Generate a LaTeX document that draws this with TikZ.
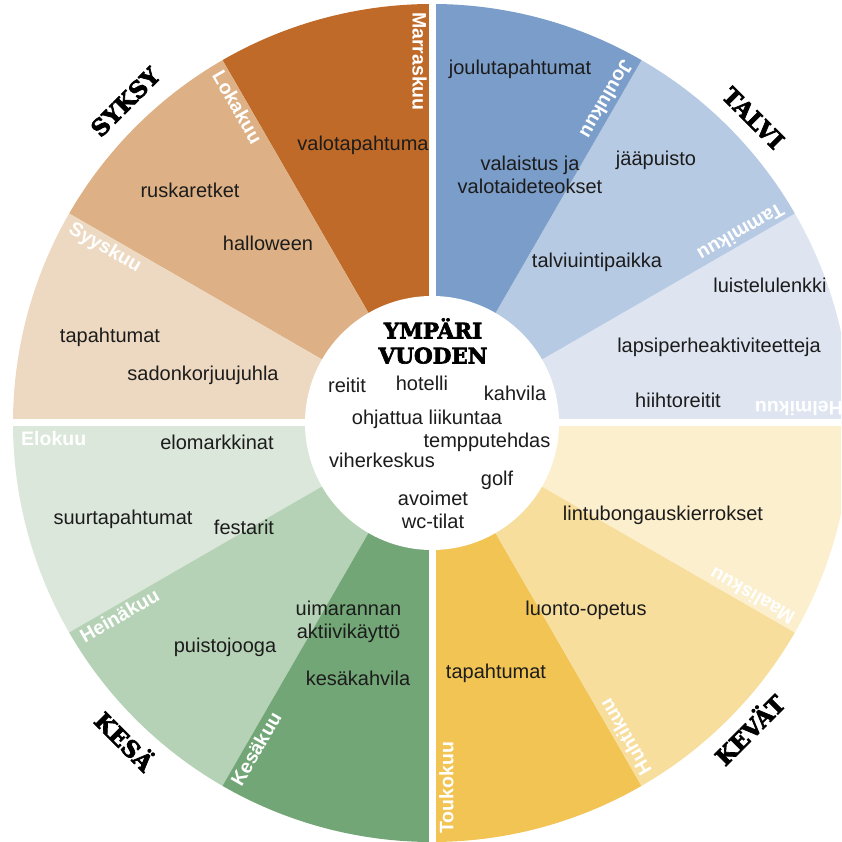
\documentclass[tikz,border=0pt]{standalone}
\usepackage{fontspec}
\setmainfont{Liberation Sans}
\newfontfamily\slab[BoldFeatures={FakeBold=3}]{DejaVu Serif}
\usetikzlibrary{calc}
\definecolor{marras}{HTML}{BF6A28}
\definecolor{loka}{HTML}{DDB185}
\definecolor{syys}{HTML}{EDD9C1}
\definecolor{joulu}{HTML}{7B9DC9}
\definecolor{tammi}{HTML}{B7CAE3}
\definecolor{helmi}{HTML}{DEE5F1}
\definecolor{elo}{HTML}{DBE7DA}
\definecolor{heina}{HTML}{B6D2B6}
\definecolor{kesa}{HTML}{72A676}
\definecolor{touko}{HTML}{F1C453}
\definecolor{huhti}{HTML}{F8DE9D}
\definecolor{maalis}{HTML}{FCEFCD}
\definecolor{txt}{HTML}{1C1C1C}
\tikzset{
  monthlbl/.style={text=white, font=\bfseries\fontsize{19.5}{20}\selectfont, inner sep=0pt},
  body/.style={text=txt, font=\fontsize{20}{24}\selectfont, inner sep=0pt, anchor=mid},
  bodyml/.style={text=txt, font=\fontsize{20}{23.5}\selectfont, inner sep=0pt, align=center, anchor=center},
  season/.style={text=black, font=\slab\bfseries\fontsize{23}{24}\selectfont, inner sep=0pt},
  gap/.style={white, line width=7pt}
}
\begin{document}
\begin{tikzpicture}[x=1pt,y=1pt]
\useasboundingbox (0,0) rectangle (841,842);
\clip (0,0) rectangle (841,842);
\coordinate (C) at (432,419);
% wedges
\foreach \a/\col in {0/helmi,30/tammi,60/joulu,90/marras,120/loka,150/syys,180/elo,210/heina,240/kesa,270/touko,300/huhti,330/maalis}
  \fill[\col] (C) -- ($(C)+(\a:419pt)$) arc[start angle=\a, delta angle=30, radius=419pt] -- cycle;
% quadrant gaps
\coordinate (gt) at (432,842);
\coordinate (gb) at (432,0);
\coordinate (gl) at (0,419);
\coordinate (gr) at (841,419);
\draw[gap] (gb) -- (gt);
\draw[gap] (gl) -- (gr);
% inner circle
\fill[white] (C) circle[radius=127pt];
% month labels
\foreach \a/\m/\d in {0/Helmikuu/7pt,30/Tammikuu/3pt,60/Joulukuu/3pt,90/Marraskuu/5pt,120/Lokakuu/3pt,150/Syyskuu/3pt,180/Elokuu/8pt,210/Heinäkuu/3pt,240/Kesäkuu/3pt,270/Toukokuu/7pt,300/Huhtikuu/3pt,330/Maaliskuu/3pt}
  \node[monthlbl, rotate=\a+180, anchor=north west] (m\a) at ($(C)+(\a:411pt)+(\a+90:\d)$) {\m};
% seasons
\node[season, rotate=45] (syksy) at ($(C)+(133.7:444pt)$) {SYKSY};
\node[season, rotate=-45] (talvi) at ($(C)+(43.5:443pt)$) {TALVI};
\node[season, rotate=-45] (kesa) at ($(C)+(226:441pt)$) {KESÄ};
\node[season, rotate=45] (kevat) at ($(C)+(316:440pt)$) {KEVÄT};
% centre
\node[season, align=center, font=\slab\bfseries\fontsize{21.5}{25}\selectfont] (title) at (433,501) {YMPÄRI\\VUODEN};
\node[body] (c1) at (347,452) {reitit};
\node[body] (c2) at (422,454) {hotelli};
\node[body] (c3) at (515,444) {kahvila};
\node[body] (c4) at (427,420) {ohjattua liikuntaa};
\node[body] (c5) at (487,397) {tempputehdas};
\node[body] (c6) at (382,377) {viherkeskus};
\node[body] (c7) at (497,359) {golf};
\node[bodyml] (c8) at (433,332) {avoimet\\wc-tilat};
% autumn
\node[body] (a1) at (363,694) {valotapahtuma};
\node[body] (a2) at (190,647) {ruskaretket};
\node[body] (a3) at (268,594) {halloween};
\node[body] (a4) at (110,502) {tapahtumat};
\node[body] (a5) at (203,464) {sadonkorjuujuhla};
% winter
\node[body] (w1) at (520,770) {joulutapahtumat};
\node[bodyml] (w2) at (530,667) {valaistus ja\\valotaideteokset};
\node[body] (w3) at (656,679) {jääpuisto};
\node[body] (w4) at (597,577) {talviuintipaikka};
\node[body] (w5) at (770,552) {luistelulenkki};
\node[body] (w6) at (719,492) {lapsiperheaktiviteetteja};
\node[body] (w7) at (678,437) {hiihtoreitit};
% summer
\node[body] (s1) at (217,395) {elomarkkinat};
\node[body] (s2) at (123,320) {suurtapahtumat};
\node[body] (s3) at (244,310) {festarit};
\node[bodyml] (s4) at (348.5,220) {uimarannan\\aktiivikäyttö};
\node[body] (s5) at (225,192) {puistojooga};
\node[body] (s6) at (358,159) {kesäkahvila};
% spring
\node[body] (k1) at (663,324) {lintubongauskierrokset};
\node[body] (k2) at (586,229) {luonto-opetus};
\node[body] (k3) at (496,166) {tapahtumat};
\end{tikzpicture}
\end{document}
